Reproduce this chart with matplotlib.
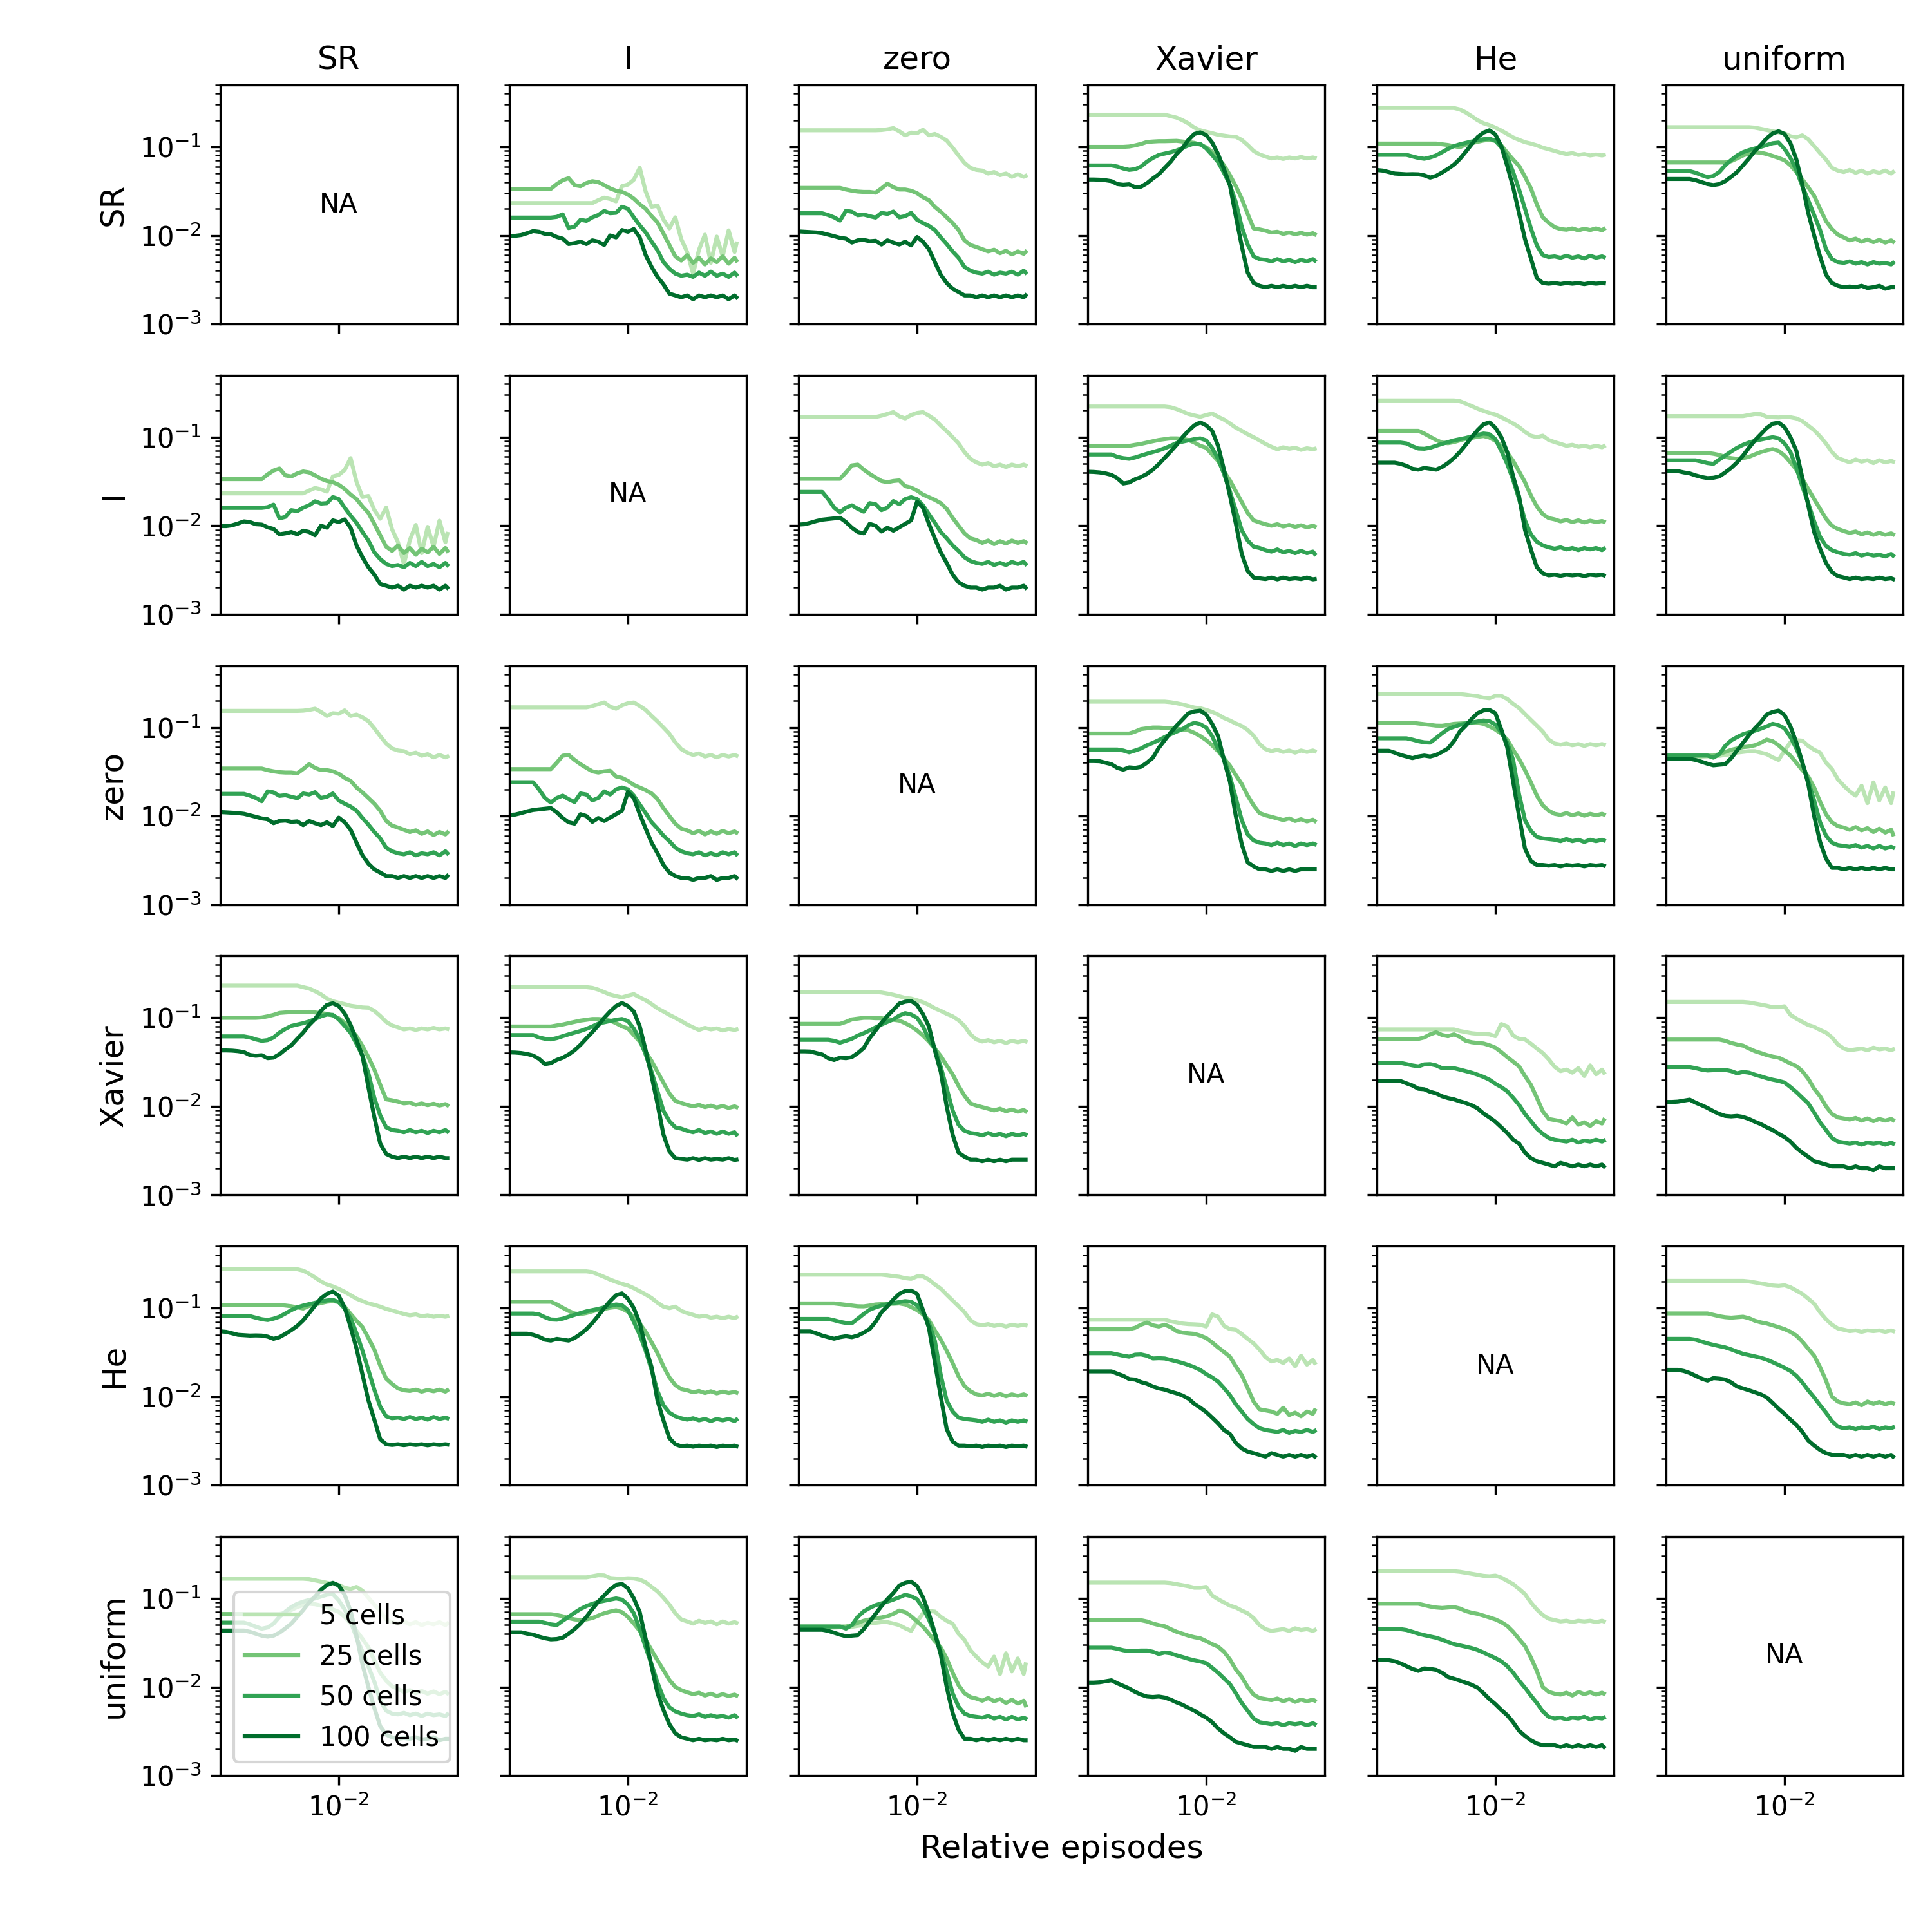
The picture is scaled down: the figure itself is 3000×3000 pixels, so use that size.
import matplotlib
matplotlib.use("Agg")
import matplotlib.pyplot as plt
from matplotlib.ticker import NullLocator

inits = ["SR", "I", "zero", "Xavier", "He", "uniform"]
cell_labels = ["5 cells", "25 cells", "50 cells", "100 cells"]
colors = ["#bae4b3", "#74c476", "#31a354", "#006d2c"]

# relative episodes (sample positions of the curves)
x_rel = [0.001000, 0.001122, 0.001259, 0.001413, 0.001585, 0.001778, 0.001995, 0.002239,
         0.002512, 0.002818, 0.003162, 0.003548, 0.003981, 0.004467, 0.005012, 0.005623,
         0.006310, 0.007079, 0.007943, 0.008913, 0.010000, 0.011220, 0.012589, 0.014125,
         0.015849, 0.017783, 0.019953, 0.022387, 0.025119, 0.028184, 0.031623, 0.035481,
         0.039811, 0.044668, 0.050119, 0.056234, 0.063096, 0.070795, 0.079433, 0.082400]

# ---- SR / I ----
sr_i_5 = [0.0232, 0.0232, 0.0232, 0.0232, 0.0232, 0.0232, 0.0232, 0.0232, 0.0232, 0.0232, 0.0232, 0.0232, 0.0232, 0.0232, 0.0232, 0.0250, 0.0267, 0.0258, 0.0243, 0.0360, 0.0375, 0.0426, 0.0580, 0.0313, 0.0211, 0.0217, 0.0151, 0.0120, 0.0160, 0.0091, 0.0065, 0.0037, 0.0069, 0.0102, 0.0049, 0.0097, 0.0058, 0.0114, 0.0065, 0.0081]
sr_i_25 = [0.0336, 0.0336, 0.0336, 0.0336, 0.0336, 0.0336, 0.0336, 0.0336, 0.038, 0.042, 0.0443, 0.037, 0.036, 0.039, 0.041, 0.040, 0.037, 0.034, 0.032, 0.031, 0.029, 0.026, 0.0225, 0.020, 0.0165, 0.014, 0.0105, 0.0078, 0.0058, 0.0052, 0.0060, 0.0049, 0.0056, 0.0047, 0.0055, 0.0050, 0.0058, 0.0048, 0.0056, 0.0052]
sr_i_50 = [0.0159, 0.0159, 0.0159, 0.0159, 0.0159, 0.0159, 0.0159, 0.0159, 0.0162, 0.0173, 0.0121, 0.0126, 0.0150, 0.0146, 0.0160, 0.0170, 0.0189, 0.0178, 0.0180, 0.0211, 0.0200, 0.0160, 0.0130, 0.0108, 0.0085, 0.0068, 0.0050, 0.0042, 0.0037, 0.0035, 0.0036, 0.0034, 0.0038, 0.0035, 0.0039, 0.0035, 0.0037, 0.0034, 0.0038, 0.0036]
sr_i_100 = [0.0099, 0.0099, 0.0101, 0.0106, 0.0112, 0.0110, 0.0104, 0.0103, 0.0096, 0.0092, 0.0080, 0.0082, 0.0085, 0.0080, 0.0088, 0.0085, 0.0078, 0.0100, 0.0095, 0.0115, 0.0110, 0.0118, 0.0095, 0.0060, 0.0044, 0.0034, 0.0028, 0.0022, 0.0021, 0.0020, 0.0021, 0.0019, 0.0021, 0.0020, 0.0021, 0.0020, 0.0021, 0.0019, 0.0021, 0.0020]

# ---- SR / zero ----
sr_z_5 = [0.154, 0.154, 0.154, 0.154, 0.154, 0.154, 0.154, 0.154, 0.154, 0.154, 0.154, 0.154, 0.154, 0.154, 0.155, 0.158, 0.163, 0.150, 0.135, 0.145, 0.143, 0.156, 0.135, 0.140, 0.130, 0.118, 0.098, 0.080, 0.066, 0.058, 0.055, 0.054, 0.050, 0.052, 0.048, 0.050, 0.046, 0.049, 0.046, 0.047]
sr_z_25 = [0.0344, 0.0344, 0.0344, 0.0344, 0.0344, 0.0344, 0.0344, 0.0344, 0.033, 0.032, 0.0313, 0.031, 0.031, 0.0304, 0.034, 0.0385, 0.035, 0.033, 0.033, 0.032, 0.030, 0.027, 0.025, 0.021, 0.0185, 0.016, 0.0138, 0.0115, 0.0088, 0.0078, 0.0074, 0.0070, 0.0066, 0.0069, 0.0063, 0.0067, 0.0061, 0.0066, 0.0062, 0.0065]
sr_z_50 = [0.0178, 0.0178, 0.0178, 0.0178, 0.0178, 0.017, 0.0160, 0.0147, 0.019, 0.0185, 0.0169, 0.0172, 0.0165, 0.0159, 0.0180, 0.0175, 0.0186, 0.0160, 0.0165, 0.0180, 0.0150, 0.0138, 0.0128, 0.0115, 0.0095, 0.0080, 0.0066, 0.0056, 0.0044, 0.0040, 0.0038, 0.0037, 0.0039, 0.0036, 0.0038, 0.0037, 0.0039, 0.0036, 0.0040, 0.0038]
sr_z_100 = [0.0111, 0.0110, 0.0109, 0.0108, 0.0106, 0.0102, 0.0098, 0.0094, 0.0092, 0.0083, 0.0088, 0.0089, 0.0086, 0.0087, 0.0079, 0.0088, 0.0083, 0.0079, 0.0085, 0.0077, 0.0096, 0.0085, 0.0070, 0.0050, 0.0036, 0.0029, 0.0025, 0.0023, 0.0021, 0.0021, 0.0020, 0.0021, 0.0020, 0.0021, 0.0020, 0.0021, 0.0020, 0.0021, 0.0020, 0.0021]

# ---- SR / Xavier ----
sr_x_5 = [0.231, 0.231, 0.231, 0.231, 0.231, 0.231, 0.231, 0.231, 0.231, 0.231, 0.231, 0.231, 0.231, 0.231, 0.222, 0.214, 0.200, 0.184, 0.165, 0.154, 0.148, 0.143, 0.137, 0.134, 0.131, 0.130, 0.120, 0.105, 0.090, 0.082, 0.078, 0.074, 0.076, 0.073, 0.076, 0.074, 0.077, 0.074, 0.076, 0.075]
sr_x_25 = [0.100, 0.100, 0.100, 0.100, 0.100, 0.100, 0.100, 0.101, 0.104, 0.108, 0.1136, 0.115, 0.116, 0.116, 0.1165, 0.117, 0.115, 0.113, 0.111, 0.106, 0.099, 0.088, 0.075, 0.062, 0.048, 0.036, 0.026, 0.0175, 0.0120, 0.0117, 0.0113, 0.0108, 0.0110, 0.0104, 0.0108, 0.0103, 0.0107, 0.0102, 0.0106, 0.0103]
sr_x_50 = [0.0617, 0.0617, 0.0617, 0.0617, 0.0617, 0.060, 0.057, 0.055, 0.056, 0.060, 0.068, 0.075, 0.081, 0.084, 0.087, 0.091, 0.097, 0.104, 0.109, 0.108, 0.096, 0.081, 0.0676, 0.051, 0.0373, 0.0237, 0.0125, 0.0079, 0.0058, 0.0054, 0.0053, 0.0051, 0.0054, 0.0051, 0.0053, 0.0050, 0.0053, 0.0051, 0.0054, 0.0052]
sr_x_100 = [0.0428, 0.0428, 0.0426, 0.042, 0.041, 0.038, 0.0373, 0.0378, 0.035, 0.0355, 0.0388, 0.044, 0.049, 0.058, 0.068, 0.083, 0.097, 0.120, 0.140, 0.146, 0.136, 0.112, 0.083, 0.056, 0.037, 0.0165, 0.0076, 0.0038, 0.0029, 0.0027, 0.0026, 0.0027, 0.0026, 0.0027, 0.0026, 0.0027, 0.0026, 0.0027, 0.0026, 0.0026]

# ---- SR / He ----
sr_h_5 = [0.275, 0.275, 0.275, 0.275, 0.275, 0.275, 0.275, 0.275, 0.275, 0.275, 0.275, 0.275, 0.275, 0.275, 0.265, 0.245, 0.222, 0.200, 0.185, 0.176, 0.165, 0.153, 0.140, 0.128, 0.120, 0.113, 0.109, 0.104, 0.098, 0.094, 0.090, 0.086, 0.083, 0.085, 0.081, 0.083, 0.080, 0.082, 0.080, 0.081]
sr_h_25 = [0.109, 0.109, 0.109, 0.109, 0.109, 0.109, 0.109, 0.109, 0.109, 0.109, 0.109, 0.107, 0.105, 0.102, 0.099, 0.106, 0.110, 0.114, 0.118, 0.120, 0.117, 0.104, 0.086, 0.072, 0.061, 0.046, 0.034, 0.0224, 0.016, 0.0139, 0.0124, 0.0118, 0.0116, 0.0120, 0.0114, 0.0119, 0.0115, 0.0120, 0.0114, 0.0118]
sr_h_50 = [0.0813, 0.0813, 0.0813, 0.0813, 0.0813, 0.0813, 0.078, 0.075, 0.0734, 0.076, 0.080, 0.087, 0.095, 0.102, 0.107, 0.111, 0.115, 0.119, 0.122, 0.124, 0.117, 0.099, 0.077, 0.052, 0.033, 0.020, 0.012, 0.0077, 0.0060, 0.0057, 0.0058, 0.0056, 0.0059, 0.0056, 0.0058, 0.0055, 0.0059, 0.0056, 0.0058, 0.0057]
sr_h_100 = [0.0548, 0.054, 0.052, 0.050, 0.0495, 0.049, 0.0492, 0.049, 0.0477, 0.045, 0.047, 0.0513, 0.0565, 0.063, 0.073, 0.088, 0.107, 0.129, 0.145, 0.154, 0.138, 0.1017, 0.061, 0.035, 0.0178, 0.0091, 0.0055, 0.0033, 0.0029, 0.00285, 0.0029, 0.00283, 0.0029, 0.00285, 0.0029, 0.00282, 0.0029, 0.00285, 0.0029, 0.00288]

# ---- SR / uniform ----
sr_u_5 = [0.167, 0.167, 0.167, 0.167, 0.167, 0.167, 0.167, 0.167, 0.167, 0.167, 0.167, 0.167, 0.167, 0.167, 0.167, 0.165, 0.160, 0.155, 0.150, 0.146, 0.142, 0.132, 0.128, 0.135, 0.122, 0.102, 0.085, 0.072, 0.058, 0.054, 0.052, 0.055, 0.051, 0.054, 0.050, 0.053, 0.051, 0.054, 0.050, 0.052]
sr_u_25 = [0.0667, 0.0667, 0.0667, 0.0667, 0.0667, 0.0667, 0.0667, 0.0667, 0.0667, 0.0667, 0.0667, 0.069, 0.074, 0.080, 0.084, 0.087, 0.086, 0.083, 0.079, 0.075, 0.0706, 0.062, 0.052, 0.043, 0.035, 0.028, 0.020, 0.0145, 0.0118, 0.0102, 0.0095, 0.0088, 0.0092, 0.0085, 0.0090, 0.0084, 0.0089, 0.0083, 0.0088, 0.0085]
sr_u_50 = [0.0533, 0.0533, 0.0533, 0.0533, 0.0533, 0.051, 0.048, 0.0455, 0.047, 0.052, 0.062, 0.071, 0.080, 0.087, 0.092, 0.096, 0.100, 0.105, 0.110, 0.112, 0.095, 0.075, 0.055, 0.036, 0.025, 0.017, 0.0115, 0.0070, 0.0054, 0.0050, 0.0049, 0.0051, 0.0048, 0.0050, 0.0047, 0.0050, 0.0048, 0.0049, 0.0047, 0.0049]
sr_u_100 = [0.0434, 0.0434, 0.0434, 0.0434, 0.0434, 0.042, 0.040, 0.038, 0.037, 0.038, 0.041, 0.046, 0.052, 0.062, 0.074, 0.090, 0.105, 0.125, 0.142, 0.150, 0.140, 0.110, 0.072, 0.038, 0.018, 0.0100, 0.0058, 0.0036, 0.0029, 0.0027, 0.0026, 0.00265, 0.0026, 0.0027, 0.00255, 0.0026, 0.0027, 0.0025, 0.0026, 0.0026]

# ---- I / zero ----
i_z_5 = [0.169, 0.169, 0.169, 0.169, 0.169, 0.169, 0.169, 0.169, 0.169, 0.169, 0.169, 0.169, 0.169, 0.169, 0.175, 0.183, 0.192, 0.172, 0.163, 0.178, 0.188, 0.192, 0.175, 0.158, 0.135, 0.117, 0.100, 0.085, 0.068, 0.057, 0.052, 0.049, 0.051, 0.047, 0.049, 0.046, 0.049, 0.047, 0.049, 0.048]
i_z_25 = [0.0339, 0.0339, 0.0339, 0.0339, 0.0339, 0.0339, 0.0339, 0.0339, 0.040, 0.048, 0.049, 0.043, 0.0385, 0.035, 0.032, 0.031, 0.032, 0.0325, 0.028, 0.027, 0.025, 0.0225, 0.021, 0.0196, 0.018, 0.0155, 0.0123, 0.0100, 0.0082, 0.0072, 0.0069, 0.0064, 0.0068, 0.0062, 0.0067, 0.0063, 0.0068, 0.0064, 0.0067, 0.0065]
i_z_50 = [0.0241, 0.0241, 0.0241, 0.0241, 0.0241, 0.020, 0.016, 0.0142, 0.0160, 0.017, 0.0155, 0.0144, 0.0180, 0.0175, 0.0150, 0.0160, 0.0190, 0.0175, 0.0200, 0.0210, 0.0200, 0.0170, 0.0135, 0.0108, 0.0085, 0.0072, 0.0060, 0.0052, 0.0044, 0.0040, 0.0038, 0.0037, 0.0039, 0.0036, 0.0038, 0.0036, 0.0039, 0.0037, 0.0039, 0.0037]
i_z_100 = [0.0103, 0.0104, 0.0108, 0.0113, 0.0117, 0.0119, 0.0121, 0.0123, 0.0110, 0.0095, 0.0085, 0.0082, 0.0105, 0.0100, 0.0086, 0.0095, 0.0088, 0.0096, 0.0105, 0.0115, 0.0187, 0.0160, 0.0105, 0.0072, 0.0050, 0.0038, 0.0028, 0.0023, 0.0021, 0.0020, 0.0020, 0.0019, 0.0020, 0.0020, 0.0021, 0.0019, 0.0020, 0.0020, 0.0021, 0.0020]

# ---- I / Xavier ----
i_x_5 = [0.222, 0.222, 0.222, 0.222, 0.222, 0.222, 0.222, 0.222, 0.222, 0.222, 0.222, 0.222, 0.222, 0.222, 0.218, 0.208, 0.195, 0.183, 0.176, 0.170, 0.178, 0.185, 0.170, 0.158, 0.143, 0.128, 0.118, 0.108, 0.100, 0.092, 0.084, 0.078, 0.073, 0.077, 0.074, 0.076, 0.072, 0.075, 0.073, 0.074]
i_x_25 = [0.0798, 0.0798, 0.0798, 0.0798, 0.0798, 0.0798, 0.0798, 0.0798, 0.082, 0.084, 0.087, 0.090, 0.093, 0.095, 0.097, 0.097, 0.096, 0.093, 0.087, 0.080, 0.076, 0.0638, 0.054, 0.041, 0.0325, 0.0245, 0.0185, 0.014, 0.0115, 0.0109, 0.0104, 0.0100, 0.0104, 0.0098, 0.0102, 0.0097, 0.0101, 0.0096, 0.0100, 0.0098]
i_x_50 = [0.0638, 0.0638, 0.0638, 0.0638, 0.0638, 0.060, 0.058, 0.057, 0.059, 0.062, 0.065, 0.068, 0.071, 0.075, 0.080, 0.086, 0.089, 0.092, 0.095, 0.097, 0.092, 0.0755, 0.057, 0.0385, 0.0245, 0.0148, 0.0089, 0.0068, 0.0058, 0.0056, 0.0053, 0.0051, 0.0054, 0.0050, 0.0052, 0.0049, 0.0052, 0.0049, 0.0051, 0.0048]
i_x_100 = [0.0407, 0.0405, 0.040, 0.039, 0.0375, 0.0344, 0.030, 0.0308, 0.0335, 0.0354, 0.0385, 0.043, 0.0496, 0.0586, 0.069, 0.082, 0.100, 0.118, 0.136, 0.147, 0.136, 0.118, 0.080, 0.043, 0.022, 0.0106, 0.0048, 0.0031, 0.0026, 0.00255, 0.0025, 0.0026, 0.00248, 0.0026, 0.0025, 0.00255, 0.0025, 0.0026, 0.00248, 0.0025]

# ---- I / He ----
i_h_5 = [0.260, 0.260, 0.260, 0.260, 0.260, 0.260, 0.260, 0.260, 0.260, 0.260, 0.260, 0.260, 0.260, 0.260, 0.255, 0.240, 0.225, 0.210, 0.198, 0.188, 0.180, 0.168, 0.155, 0.143, 0.130, 0.115, 0.104, 0.100, 0.104, 0.093, 0.088, 0.084, 0.080, 0.082, 0.078, 0.080, 0.077, 0.080, 0.077, 0.079]
i_h_25 = [0.118, 0.118, 0.118, 0.118, 0.118, 0.118, 0.118, 0.118, 0.110, 0.101, 0.093, 0.087, 0.0855, 0.088, 0.092, 0.096, 0.098, 0.101, 0.103, 0.099, 0.091, 0.079, 0.067, 0.054, 0.041, 0.031, 0.022, 0.0165, 0.0135, 0.0122, 0.0118, 0.0112, 0.0116, 0.0110, 0.0115, 0.0109, 0.0114, 0.0110, 0.0113, 0.0111]
i_h_50 = [0.0869, 0.0869, 0.0869, 0.0869, 0.0869, 0.085, 0.079, 0.0745, 0.074, 0.076, 0.080, 0.084, 0.088, 0.092, 0.095, 0.098, 0.102, 0.106, 0.110, 0.108, 0.095, 0.070, 0.050, 0.033, 0.020, 0.0115, 0.0080, 0.0066, 0.0060, 0.0057, 0.0055, 0.0057, 0.0054, 0.0056, 0.0053, 0.0056, 0.0054, 0.0056, 0.0053, 0.0055]
i_h_100 = [0.0515, 0.0515, 0.0515, 0.0515, 0.050, 0.0475, 0.044, 0.043, 0.045, 0.044, 0.043, 0.046, 0.051, 0.058, 0.068, 0.082, 0.100, 0.120, 0.140, 0.147, 0.128, 0.100, 0.068, 0.036, 0.0215, 0.0090, 0.0054, 0.0034, 0.0029, 0.00275, 0.0028, 0.00272, 0.0028, 0.00275, 0.0028, 0.0027, 0.0028, 0.00275, 0.0028, 0.00275]

# ---- I / uniform ----
i_u_5 = [0.173, 0.173, 0.173, 0.173, 0.173, 0.173, 0.173, 0.173, 0.173, 0.173, 0.173, 0.173, 0.173, 0.173, 0.178, 0.183, 0.182, 0.170, 0.168, 0.167, 0.169, 0.168, 0.163, 0.152, 0.135, 0.120, 0.102, 0.085, 0.068, 0.058, 0.055, 0.052, 0.056, 0.053, 0.055, 0.051, 0.055, 0.052, 0.054, 0.053]
i_u_25 = [0.0664, 0.0664, 0.0664, 0.0664, 0.0664, 0.0664, 0.0664, 0.0664, 0.065, 0.063, 0.060, 0.058, 0.057, 0.058, 0.060, 0.064, 0.068, 0.071, 0.0734, 0.070, 0.062, 0.052, 0.043, 0.034, 0.026, 0.020, 0.0155, 0.0120, 0.0100, 0.0092, 0.0087, 0.0083, 0.0086, 0.0080, 0.0084, 0.0079, 0.0083, 0.0079, 0.0082, 0.0080]
i_u_50 = [0.0548, 0.0548, 0.0548, 0.0548, 0.0548, 0.0548, 0.053, 0.051, 0.050, 0.056, 0.062, 0.069, 0.076, 0.082, 0.087, 0.091, 0.094, 0.097, 0.100, 0.097, 0.085, 0.068, 0.045, 0.028, 0.018, 0.0112, 0.0075, 0.0059, 0.0053, 0.0050, 0.0048, 0.0047, 0.0049, 0.0046, 0.0048, 0.0046, 0.0047, 0.0045, 0.0048, 0.0046]
i_u_100 = [0.0414, 0.0414, 0.0414, 0.040, 0.039, 0.037, 0.0355, 0.0345, 0.0348, 0.036, 0.040, 0.045, 0.052, 0.062, 0.076, 0.092, 0.108, 0.127, 0.142, 0.146, 0.130, 0.100, 0.070, 0.035, 0.017, 0.0085, 0.0055, 0.0038, 0.0030, 0.0027, 0.0026, 0.0025, 0.0026, 0.0025, 0.00255, 0.0025, 0.0026, 0.0025, 0.00255, 0.0025]

# ---- zero / Xavier ----
z_x_5 = [0.196, 0.196, 0.196, 0.196, 0.196, 0.196, 0.196, 0.196, 0.196, 0.196, 0.196, 0.196, 0.196, 0.196, 0.193, 0.188, 0.182, 0.175, 0.168, 0.165, 0.158, 0.150, 0.140, 0.128, 0.120, 0.111, 0.104, 0.094, 0.081, 0.065, 0.057, 0.054, 0.056, 0.053, 0.055, 0.052, 0.055, 0.053, 0.055, 0.054]
z_x_25 = [0.0855, 0.0855, 0.0855, 0.0855, 0.0855, 0.0855, 0.0855, 0.0855, 0.090, 0.096, 0.098, 0.100, 0.100, 0.099, 0.099, 0.097, 0.095, 0.093, 0.087, 0.080, 0.072, 0.063, 0.054, 0.045, 0.037, 0.029, 0.023, 0.017, 0.0132, 0.0108, 0.0102, 0.0098, 0.0094, 0.0090, 0.0094, 0.0088, 0.0092, 0.0087, 0.0091, 0.0088]
z_x_50 = [0.0564, 0.0564, 0.0564, 0.0564, 0.0564, 0.0564, 0.055, 0.0524, 0.055, 0.058, 0.063, 0.067, 0.072, 0.078, 0.084, 0.090, 0.096, 0.106, 0.113, 0.109, 0.100, 0.080, 0.057, 0.045, 0.028, 0.016, 0.009, 0.0062, 0.0053, 0.0050, 0.0049, 0.0047, 0.0050, 0.0047, 0.0049, 0.0046, 0.0049, 0.0047, 0.0049, 0.0048]
z_x_100 = [0.0418, 0.0418, 0.0416, 0.040, 0.0385, 0.035, 0.0334, 0.0355, 0.035, 0.036, 0.040, 0.0456, 0.059, 0.072, 0.088, 0.105, 0.123, 0.145, 0.152, 0.155, 0.140, 0.110, 0.080, 0.043, 0.0245, 0.010, 0.0048, 0.0030, 0.0027, 0.0025, 0.0025, 0.0024, 0.0025, 0.0024, 0.0025, 0.0024, 0.0025, 0.0025, 0.0025, 0.0025]

# ---- zero / He ----
z_h_5 = [0.239, 0.239, 0.239, 0.239, 0.239, 0.239, 0.239, 0.239, 0.239, 0.239, 0.239, 0.239, 0.239, 0.239, 0.239, 0.235, 0.230, 0.226, 0.218, 0.214, 0.228, 0.228, 0.210, 0.185, 0.166, 0.142, 0.122, 0.105, 0.090, 0.073, 0.066, 0.064, 0.066, 0.063, 0.065, 0.062, 0.065, 0.063, 0.065, 0.064]
z_h_25 = [0.113, 0.113, 0.113, 0.113, 0.113, 0.113, 0.113, 0.111, 0.109, 0.107, 0.105, 0.1047, 0.107, 0.110, 0.111, 0.112, 0.112, 0.113, 0.110, 0.103, 0.095, 0.085, 0.073, 0.056, 0.044, 0.033, 0.024, 0.017, 0.0132, 0.0115, 0.0106, 0.0103, 0.0108, 0.0102, 0.0107, 0.0101, 0.0106, 0.0102, 0.0106, 0.0104]
z_h_50 = [0.0755, 0.0755, 0.0755, 0.0755, 0.0755, 0.0755, 0.073, 0.070, 0.068, 0.0675, 0.076, 0.086, 0.096, 0.102, 0.107, 0.111, 0.114, 0.117, 0.120, 0.118, 0.108, 0.088, 0.0675, 0.043, 0.0176, 0.009, 0.0068, 0.0058, 0.0056, 0.0055, 0.0054, 0.0052, 0.0055, 0.0052, 0.0054, 0.0051, 0.0054, 0.0052, 0.0054, 0.0053]
z_h_100 = [0.0546, 0.0546, 0.0546, 0.052, 0.049, 0.047, 0.0451, 0.047, 0.0482, 0.047, 0.049, 0.053, 0.058, 0.070, 0.090, 0.105, 0.125, 0.145, 0.156, 0.158, 0.145, 0.095, 0.060, 0.0245, 0.010, 0.0043, 0.0031, 0.0028, 0.0028, 0.00275, 0.0028, 0.0027, 0.0028, 0.00275, 0.0028, 0.0027, 0.0028, 0.00275, 0.0028, 0.00275]

# ---- zero / uniform ----
z_u_5 = [0.0469, 0.0469, 0.0469, 0.0469, 0.0469, 0.0469, 0.0469, 0.0472, 0.0475, 0.0478, 0.049, 0.050, 0.052, 0.053, 0.054, 0.054, 0.052, 0.050, 0.046, 0.043, 0.055, 0.068, 0.072, 0.071, 0.062, 0.056, 0.052, 0.040, 0.034, 0.026, 0.022, 0.019, 0.017, 0.022, 0.014, 0.024, 0.015, 0.021, 0.014, 0.018]
z_u_25 = [0.0482, 0.0482, 0.0482, 0.0482, 0.0482, 0.0482, 0.0482, 0.0482, 0.0482, 0.050, 0.053, 0.056, 0.058, 0.060, 0.061, 0.063, 0.067, 0.073, 0.070, 0.063, 0.055, 0.048, 0.040, 0.033, 0.028, 0.021, 0.0145, 0.0105, 0.0085, 0.0077, 0.0074, 0.0070, 0.0075, 0.0069, 0.0073, 0.0066, 0.0072, 0.0065, 0.0070, 0.0062]
z_u_50 = [0.0482, 0.0482, 0.0482, 0.0482, 0.0482, 0.0482, 0.0482, 0.0482, 0.0456, 0.050, 0.062, 0.0714, 0.078, 0.084, 0.088, 0.092, 0.097, 0.103, 0.110, 0.106, 0.098, 0.078, 0.058, 0.040, 0.025, 0.0150, 0.0085, 0.0060, 0.0050, 0.0047, 0.0046, 0.0045, 0.0047, 0.0044, 0.0046, 0.0043, 0.0046, 0.0043, 0.0045, 0.0044]
z_u_100 = [0.0443, 0.0443, 0.0443, 0.0443, 0.0443, 0.043, 0.041, 0.039, 0.0374, 0.038, 0.0385, 0.045, 0.055, 0.067, 0.082, 0.098, 0.115, 0.140, 0.150, 0.155, 0.138, 0.103, 0.0675, 0.0407, 0.0232, 0.010, 0.0051, 0.0033, 0.0026, 0.0026, 0.0025, 0.0026, 0.0025, 0.0026, 0.0025, 0.0026, 0.0025, 0.0026, 0.0025, 0.0025]

# ---- Xavier / He ----
x_h_5 = [0.074, 0.074, 0.074, 0.074, 0.074, 0.074, 0.074, 0.074, 0.074, 0.074, 0.074, 0.074, 0.074, 0.074, 0.071, 0.069, 0.067, 0.066, 0.0656, 0.065, 0.062, 0.085, 0.080, 0.063, 0.058, 0.057, 0.051, 0.045, 0.040, 0.034, 0.028, 0.025, 0.026, 0.024, 0.027, 0.022, 0.029, 0.023, 0.026, 0.024]
x_h_25 = [0.0578, 0.0578, 0.0578, 0.0578, 0.0578, 0.0578, 0.0578, 0.0578, 0.060, 0.065, 0.0687, 0.064, 0.062, 0.065, 0.061, 0.055, 0.053, 0.052, 0.0513, 0.049, 0.046, 0.041, 0.036, 0.032, 0.0283, 0.022, 0.0175, 0.0125, 0.0088, 0.0072, 0.0070, 0.0068, 0.0064, 0.0075, 0.0062, 0.0066, 0.0060, 0.0068, 0.0064, 0.0070]
x_h_50 = [0.031, 0.031, 0.031, 0.031, 0.031, 0.030, 0.0290, 0.0283, 0.0298, 0.0300, 0.0290, 0.0270, 0.0272, 0.0270, 0.0260, 0.0250, 0.0240, 0.0228, 0.0215, 0.0200, 0.0180, 0.0165, 0.0148, 0.0125, 0.0104, 0.0082, 0.0068, 0.0056, 0.0049, 0.0044, 0.0042, 0.0041, 0.0040, 0.0042, 0.0039, 0.0041, 0.0040, 0.0042, 0.0040, 0.0041]
x_h_100 = [0.0193, 0.0193, 0.0193, 0.0193, 0.0193, 0.0182, 0.0172, 0.0158, 0.0156, 0.0146, 0.0140, 0.0130, 0.0124, 0.0120, 0.0114, 0.0109, 0.0103, 0.0095, 0.0083, 0.0075, 0.0067, 0.0058, 0.0050, 0.0042, 0.0038, 0.0030, 0.0026, 0.0024, 0.0023, 0.0022, 0.0021, 0.0023, 0.0022, 0.0021, 0.0022, 0.0021, 0.0022, 0.0021, 0.0022, 0.0021]

# ---- Xavier / uniform ----
x_u_5 = [0.151, 0.151, 0.151, 0.151, 0.151, 0.151, 0.151, 0.151, 0.151, 0.151, 0.151, 0.151, 0.151, 0.151, 0.149, 0.145, 0.141, 0.137, 0.132, 0.132, 0.135, 0.108, 0.098, 0.090, 0.083, 0.079, 0.073, 0.068, 0.060, 0.050, 0.045, 0.043, 0.044, 0.045, 0.043, 0.046, 0.044, 0.045, 0.043, 0.044]
x_u_25 = [0.0568, 0.0568, 0.0568, 0.0568, 0.0568, 0.0568, 0.0568, 0.0568, 0.0568, 0.0568, 0.055, 0.052, 0.050, 0.0485, 0.045, 0.042, 0.040, 0.038, 0.0365, 0.0355, 0.033, 0.0305, 0.0285, 0.025, 0.0205, 0.0158, 0.0130, 0.0100, 0.0082, 0.0075, 0.0073, 0.0071, 0.0074, 0.0069, 0.0073, 0.0068, 0.0072, 0.0069, 0.0072, 0.0070]
x_u_50 = [0.0278, 0.0278, 0.0278, 0.0278, 0.0278, 0.0270, 0.0260, 0.0254, 0.0256, 0.0258, 0.0258, 0.0250, 0.0236, 0.0245, 0.0240, 0.0228, 0.0218, 0.0208, 0.0200, 0.0194, 0.0186, 0.0165, 0.0145, 0.0125, 0.0108, 0.0085, 0.0066, 0.0054, 0.0044, 0.0040, 0.0039, 0.0038, 0.0039, 0.0037, 0.0039, 0.0038, 0.0039, 0.0037, 0.0039, 0.0038]
x_u_100 = [0.0112, 0.0112, 0.0113, 0.0116, 0.0119, 0.0110, 0.0103, 0.0096, 0.0088, 0.0082, 0.0078, 0.0077, 0.0078, 0.0076, 0.0072, 0.0067, 0.0063, 0.0058, 0.0054, 0.0049, 0.0045, 0.0040, 0.0034, 0.0030, 0.0027, 0.0024, 0.0023, 0.0022, 0.0021, 0.0021, 0.0021, 0.0020, 0.0021, 0.0020, 0.0020, 0.0019, 0.0021, 0.0020, 0.0020, 0.0020]

# ---- He / uniform ----
h_u_5 = [0.203, 0.203, 0.203, 0.203, 0.203, 0.203, 0.203, 0.203, 0.203, 0.203, 0.203, 0.203, 0.203, 0.203, 0.200, 0.195, 0.190, 0.185, 0.180, 0.178, 0.181, 0.172, 0.158, 0.145, 0.128, 0.112, 0.090, 0.075, 0.065, 0.059, 0.057, 0.055, 0.056, 0.054, 0.056, 0.055, 0.056, 0.054, 0.056, 0.055]
h_u_25 = [0.0871, 0.0871, 0.0871, 0.0871, 0.0871, 0.0871, 0.0871, 0.0871, 0.084, 0.081, 0.079, 0.078, 0.079, 0.080, 0.077, 0.072, 0.069, 0.067, 0.064, 0.061, 0.058, 0.054, 0.049, 0.042, 0.0348, 0.029, 0.0215, 0.0152, 0.0100, 0.0088, 0.0084, 0.0082, 0.0086, 0.0080, 0.0088, 0.0083, 0.0087, 0.0082, 0.0086, 0.0084]
h_u_50 = [0.045, 0.045, 0.045, 0.045, 0.045, 0.044, 0.042, 0.040, 0.0385, 0.0372, 0.036, 0.0342, 0.0322, 0.0305, 0.0295, 0.0285, 0.0275, 0.0262, 0.0245, 0.0228, 0.0212, 0.0195, 0.0172, 0.0145, 0.0118, 0.0098, 0.0080, 0.0066, 0.0053, 0.0046, 0.0044, 0.0045, 0.0043, 0.0045, 0.0044, 0.0046, 0.0043, 0.0045, 0.0044, 0.0045]
h_u_100 = [0.0201, 0.0201, 0.0201, 0.0195, 0.0185, 0.0172, 0.0160, 0.0152, 0.0162, 0.0160, 0.0156, 0.0145, 0.0130, 0.0124, 0.0118, 0.0112, 0.0106, 0.0098, 0.0085, 0.0073, 0.0064, 0.0055, 0.0048, 0.0040, 0.0032, 0.0028, 0.0025, 0.0023, 0.0022, 0.0022, 0.0022, 0.0021, 0.0022, 0.0021, 0.0022, 0.0021, 0.0022, 0.0021, 0.0022, 0.0021]

pair_data = {
    ("SR", "I"): [sr_i_5, sr_i_25, sr_i_50, sr_i_100],
    ("SR", "zero"): [sr_z_5, sr_z_25, sr_z_50, sr_z_100],
    ("SR", "Xavier"): [sr_x_5, sr_x_25, sr_x_50, sr_x_100],
    ("SR", "He"): [sr_h_5, sr_h_25, sr_h_50, sr_h_100],
    ("SR", "uniform"): [sr_u_5, sr_u_25, sr_u_50, sr_u_100],
    ("I", "zero"): [i_z_5, i_z_25, i_z_50, i_z_100],
    ("I", "Xavier"): [i_x_5, i_x_25, i_x_50, i_x_100],
    ("I", "He"): [i_h_5, i_h_25, i_h_50, i_h_100],
    ("I", "uniform"): [i_u_5, i_u_25, i_u_50, i_u_100],
    ("zero", "Xavier"): [z_x_5, z_x_25, z_x_50, z_x_100],
    ("zero", "He"): [z_h_5, z_h_25, z_h_50, z_h_100],
    ("zero", "uniform"): [z_u_5, z_u_25, z_u_50, z_u_100],
    ("Xavier", "He"): [x_h_5, x_h_25, x_h_50, x_h_100],
    ("Xavier", "uniform"): [x_u_5, x_u_25, x_u_50, x_u_100],
    ("He", "uniform"): [h_u_5, h_u_25, h_u_50, h_u_100],
}

fig, axes = plt.subplots(6, 6, figsize=(10, 10), dpi=300, sharex=True, sharey=True)
fig.subplots_adjust(left=0.114, right=0.985, bottom=0.081, top=0.956,
                    wspace=0.22, hspace=0.215)

for i, rname in enumerate(inits):
    for j, cname in enumerate(inits):
        ax = axes[i, j]
        ax.set_xscale("log")
        ax.set_yscale("log")
        if i == j:
            ax.text(0.5, 0.5, "NA", transform=ax.transAxes,
                    ha="center", va="center", fontsize=10)
        else:
            key = (rname, cname) if (rname, cname) in pair_data else (cname, rname)
            for series, c, lab in zip(pair_data[key], colors, cell_labels):
                n = min(len(series), len(x_rel))
                ax.plot(x_rel[:n], series[:n], color=c, lw=1.5, label=lab)
        if i == 0:
            ax.set_title(cname, fontsize=12)
        if j == 0:
            ax.set_ylabel(rname, fontsize=12)

ax0 = axes[0, 0]
ax0.set_ylim(1e-3, 0.5)
ax0.set_xlim(1e-3, 1e-1)
ax0.set_xticks([1e-2])
ax0.xaxis.set_minor_locator(NullLocator())
for ax in axes.flat:
    ax.tick_params(labelsize=10)

axes[5, 0].legend(loc="lower left", fontsize=10)
fig.text(0.5495, 0.043, "Relative episodes", ha="center", va="center", fontsize=12)
fig.savefig("out.png", dpi=300)
